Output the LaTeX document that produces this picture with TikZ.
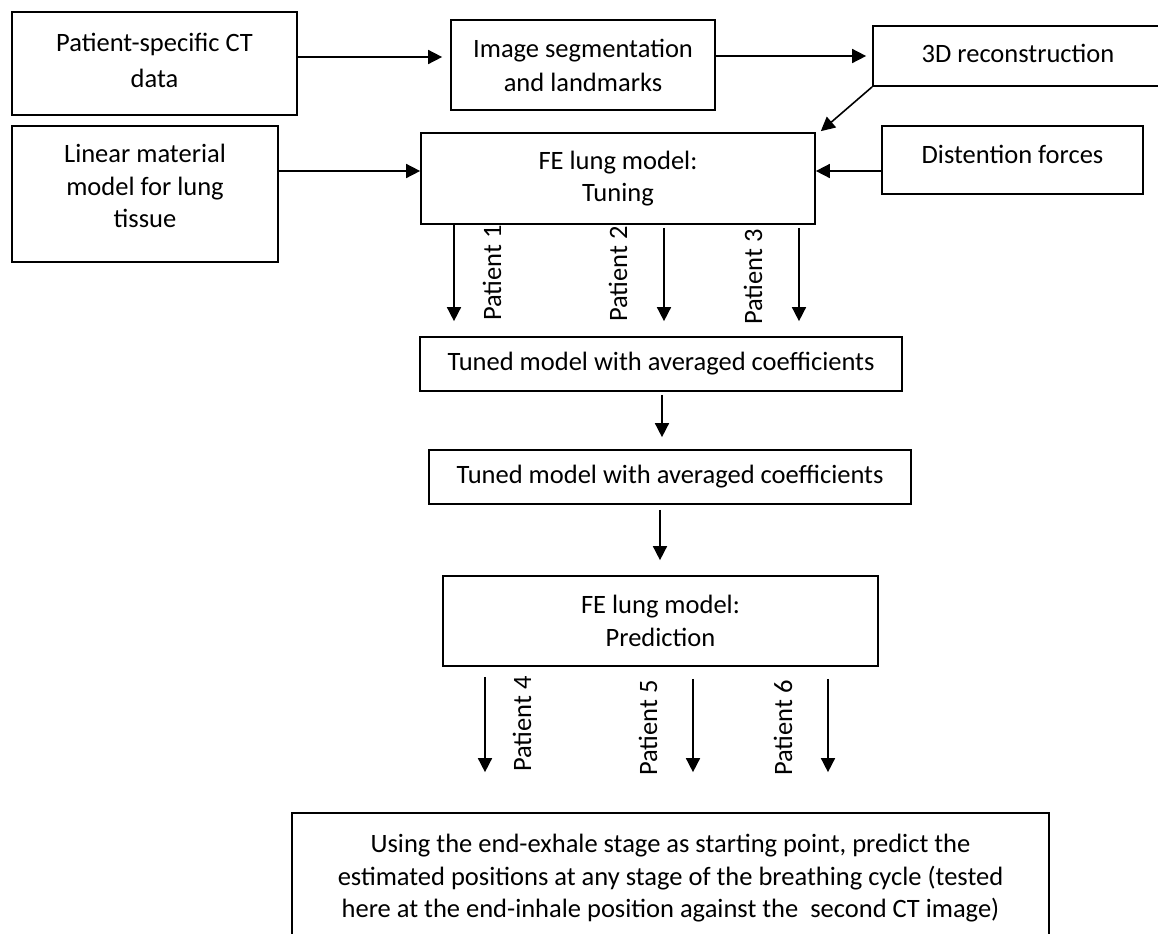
\documentclass[tikz,border=0pt]{standalone}
\usepackage{fontspec}
\setmainfont{Carlito}
\usepackage{tikz}
\usetikzlibrary{arrows.meta}

\begin{document}
\begin{tikzpicture}[x=0.5pt,y=-0.5pt,
  box/.style={draw,line width=0.85pt,inner sep=0pt,align=center,font=\fontsize{13.25}{16.25}\selectfont},
  arr/.style={line width=0.8pt,-{Triangle[length=7pt,width=7pt]}},
  patient/.style={rotate=90,inner sep=0pt,font=\fontsize{13.25}{16.25}\selectfont}]
\useasboundingbox (0,0) rectangle (1158,933);
\clip (0,0) rectangle (1158,933);

\node[box,minimum width=142.5pt,minimum height=51.5pt] (ctdata) at (154.5,63.5) {Patient-specific CT\\[1.75pt]data\rule[-3.5pt]{0pt}{0pt}};
\node[box,minimum width=132pt,minimum height=45pt] (segm) at (583,65) {Image segmentation\\[0.75pt]and landmarks};
\node[box,minimum width=145pt,minimum height=30pt] (recon) at (1018,56) {3D reconstruction\rule[-3pt]{0pt}{0pt}};
\node[box,minimum width=133pt,minimum height=68pt] (linmat) at (145,194) {Linear material\\model for lung\\tissue\rule[-8pt]{0pt}{0pt}};
\node[box,minimum width=197pt,minimum height=45.5pt] (tune) at (618,178.5) {FE lung model:\\Tuning};
\node[box,minimum width=130.5pt,minimum height=34pt] (dist) at (1012.5,160) {Distention forces\rule[-6pt]{0pt}{0pt}};
\node[box,minimum width=241pt,minimum height=27pt] (avg1) at (661,364) {Tuned model with averaged coefficients};
\node[box,minimum width=241pt,minimum height=27pt] (avg2) at (670,477) {Tuned model with averaged coefficients};
\node[box,minimum width=217.5pt,minimum height=45pt] (pred) at (660.5,621) {FE lung model:\\Prediction};
\node[box,minimum width=378.5pt,minimum height=65.5pt] (result) at (670.5,878.5) {Using the end-exhale stage as starting point, predict the\\estimated positions at any stage of the breathing cycle (tested\\here at the end-inhale position against the\ \ second CT image)};

\node[patient] (pat1) at (492,273) {Patient 1};
\node[patient] (pat2) at (618,274) {Patient 2};
\node[patient] (pat3) at (753,277) {Patient 3};
\node[patient] (pat4) at (522,724) {Patient 4};
\node[patient] (pat5) at (648,728) {Patient 5};
\node[patient] (pat6) at (783,728) {Patient 6};

\draw[arr,shorten >=4pt] ([yshift=3.25pt]ctdata.east) -- ([yshift=3.25pt]ctdata.east -| segm.west);
\draw[arr,shorten >=3pt] (segm.east |- recon.west) -- (recon.west);
\draw[arr] (recon.south west) -- ([xshift=2.5pt,yshift=0.5pt]tune.north east);
\draw[arr] ([yshift=11.5pt]linmat.east) -- ([yshift=11.5pt]linmat.east -| tune.west);
\draw[arr] ([yshift=-5.5pt]dist.west) -- ([yshift=-5.5pt]dist.west -| tune.east);

\draw[arr,shorten >=7.5pt] (tune.south -| 454,0) -- (avg1.north -| 454,0);
\draw[arr,shorten <=1.5pt,shorten >=7.5pt] (tune.south -| 664,0) -- (avg1.north -| 664,0);
\draw[arr,shorten <=1.5pt,shorten >=7.5pt] (tune.south -| 799,0) -- (avg1.north -| 799,0);
\draw[arr,shorten <=1.5pt,shorten >=6pt] (avg1.south -| 662,0) -- (avg2.north -| 662,0);
\draw[arr,shorten <=2.5pt,shorten >=7.5pt] (avg2.south -| 660,0) -- (pred.north -| 660,0);
\draw[arr,shorten <=5pt,shorten >=20pt] (pred.south -| 485,0) -- (result.north -| 485,0);
\draw[arr,shorten <=6pt,shorten >=20pt] (pred.south -| 693,0) -- (result.north -| 693,0);
\draw[arr,shorten <=6pt,shorten >=20pt] (pred.south -| 828,0) -- (result.north -| 828,0);

\end{tikzpicture}
\end{document}
